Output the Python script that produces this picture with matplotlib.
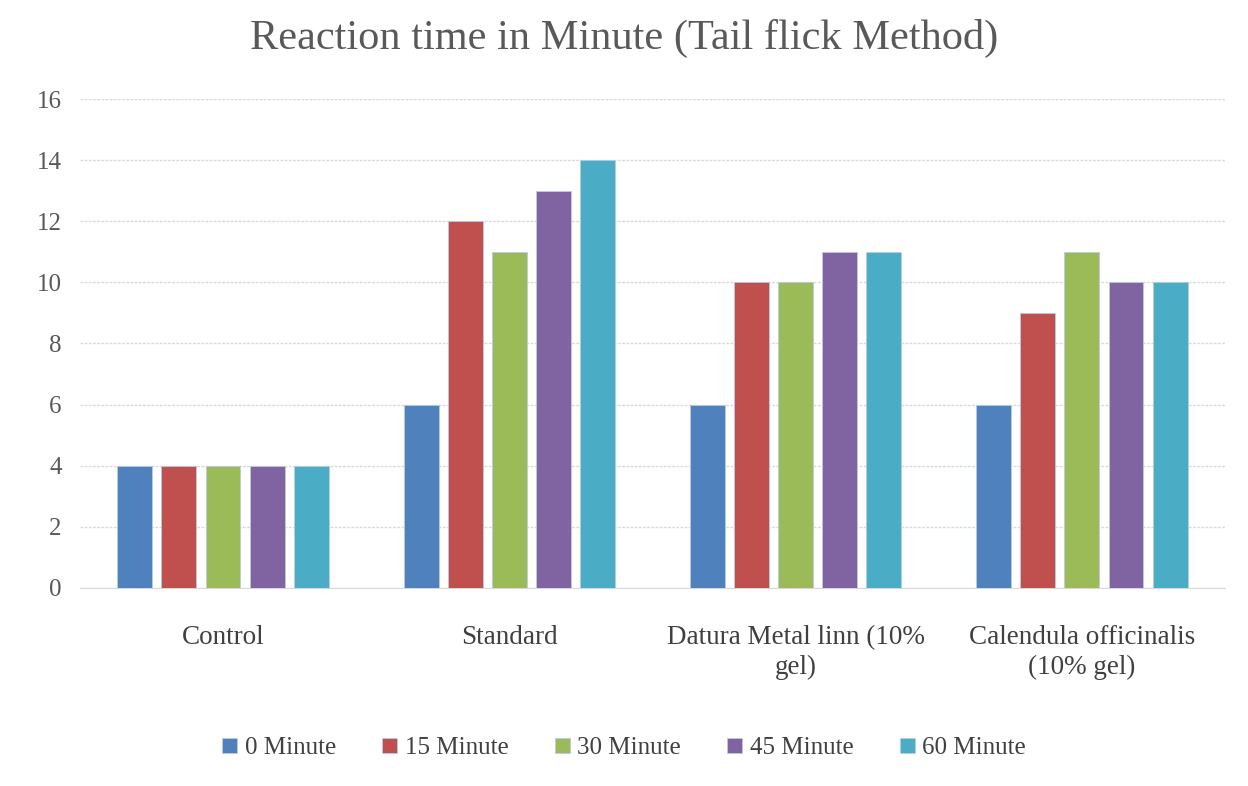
import matplotlib
matplotlib.use("Agg")
import matplotlib.pyplot as plt
import numpy as np

categories = ["Control", "Standard", "Datura Metal linn (10%\ngel)", "Calendula officinalis\n(10% gel)"]
series_names = ["0 Minute", "15 Minute", "30 Minute", "45 Minute", "60 Minute"]
values = {
    "0 Minute": [4, 6, 6, 6],
    "15 Minute": [4, 12, 10, 9],
    "30 Minute": [4, 11, 10, 11],
    "45 Minute": [4, 13, 11, 10],
    "60 Minute": [4, 14, 11, 10],
}
colors = ["#4F81BD", "#C0504D", "#9BBB59", "#8064A2", "#4BACC6"]
yticks = [0, 2, 4, 6, 8, 10, 12, 14, 16]

plt.rcParams['font.family'] = ['Liberation Serif', 'DejaVu Serif']

fig = plt.figure(figsize=(12.48, 7.86), dpi=100)
ax = fig.add_axes([0.064, 0.252, 0.9176, 0.622])

x = np.arange(len(categories))
step = 0.154
width = 0.122
for i, name in enumerate(series_names):
    ax.bar(x + (i - 2) * step, values[name], width=width, color=colors[i],
           edgecolor="#b8cce4", linewidth=0.6, label=name, zorder=3)

ax.set_xlim(-0.5, 3.5)
ax.set_ylim(0, 16)
ax.set_yticks(yticks)
ax.set_yticklabels([str(t) for t in yticks], fontsize=18, color="#595959")
ax.set_xticks(x)
ax.set_xticklabels(categories, fontsize=19.5, color="#404040", linespacing=1.25)
ax.tick_params(axis='both', length=0)
ax.tick_params(axis='x', pad=27)
ax.tick_params(axis='y', pad=13)
ax.yaxis.grid(True, color="#d9d9d9", linewidth=1.0, linestyle=(0, (2, 1)), zorder=0)
for s in ["top", "right", "left"]:
    ax.spines[s].set_visible(False)
ax.spines["bottom"].set_color("#d9d9d9")

fig.text(0.5, 0.951, "Reaction time in Minute (Tail flick Method)", ha="center", va="center",
         fontsize=30.5, color="#595959")

fig.legend(loc="center", bbox_to_anchor=(0.5, 0.048), ncol=5, frameon=False,
           fontsize=18, handlelength=0.6, handleheight=0.6, handletextpad=0.3,
           columnspacing=1.85, labelcolor="#404040")

fig.savefig("out.png", dpi=100)
